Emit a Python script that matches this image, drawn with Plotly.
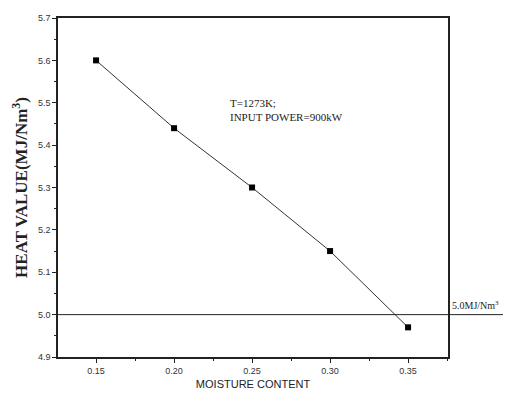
import plotly.graph_objects as go

moisture = [0.15, 0.20, 0.25, 0.30, 0.35]
heat_value = [5.60, 5.44, 5.30, 5.15, 4.97]
x_ticks = [0.15, 0.20, 0.25, 0.30, 0.35]
y_ticks = [4.9, 5.0, 5.1, 5.2, 5.3, 5.4, 5.5, 5.6, 5.7]
ref_value = 5.0

fig = go.Figure()
fig.add_trace(go.Scatter(
    x=moisture, y=heat_value, mode="lines+markers",
    line=dict(color="#333333", width=1),
    marker=dict(symbol="square", size=6, color="black"),
    showlegend=False,
))

fig.add_shape(type="line", xref="paper", yref="y", x0=0, x1=1.17,
              y0=ref_value, y1=ref_value, line=dict(color="#222222", width=1))

fig.add_annotation(x=1.005, y=ref_value, xref="paper", yref="y", xanchor="left", yanchor="bottom",
                   yshift=2,
                   text="5.0MJ/Nm<sup>3</sup>", showarrow=False,
                   font=dict(family="Liberation Serif", size=10, color="#222222"))

fig.add_annotation(x=0.2346, y=5.484, xref="x", yref="y", xanchor="left", yanchor="middle", align="left",
                   text="T=1273K;<br>INPUT POWER=900kW", showarrow=False,
                   font=dict(family="Liberation Serif", size=11, color="#222222"))

axis_common = dict(showline=True, linecolor="#222222", linewidth=1.5, mirror=True,
                   showgrid=False, zeroline=False, ticks="outside", ticklen=4,
                   tickcolor="#222222", tickfont=dict(family="Liberation Sans", size=9, color="#333333"))

fig.update_xaxes(range=[0.1256, 0.3756], tickvals=x_ticks,
                 ticktext=[f"{v:.2f}" for v in x_ticks],
                 minor=dict(ticks="outside", ticklen=2, dtick=0.025, tickcolor="#222222"),
                 title=dict(text="MOISTURE CONTENT", font=dict(family="Liberation Sans", size=11, color="#222222"),
                            standoff=6),
                 **axis_common)
fig.update_yaxes(range=[4.9, 5.7], tickvals=y_ticks,
                 ticktext=[f"{v:.1f}" for v in y_ticks],
                 minor=dict(ticks="outside", ticklen=2, dtick=0.05, tickcolor="#222222"),
                 title=dict(text="<b>HEAT VALUE(MJ/Nm<sup>3</sup>)</b>",
                            font=dict(family="Liberation Serif", size=17, color="#222222"), standoff=6),
                 **axis_common)

fig.update_layout(width=503, height=393, margin=dict(l=50, r=63, t=5, b=44),
                  paper_bgcolor="white", plot_bgcolor="white")

fig.write_html("out.html")
